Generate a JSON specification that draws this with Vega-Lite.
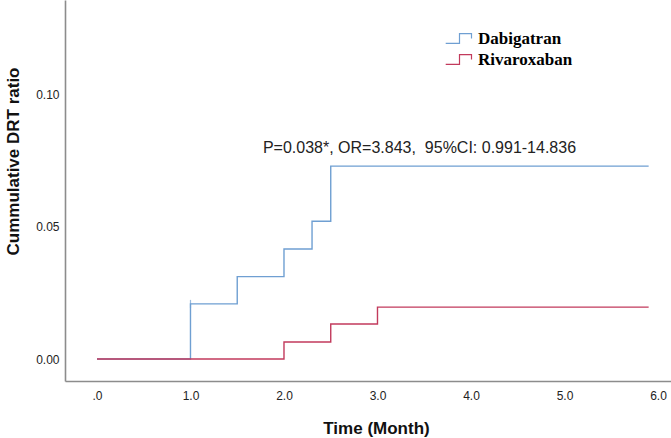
{
  "$schema": "https://vega.github.io/schema/vega-lite/v6.json",
  "autosize": "none",
  "width": 606,
  "height": 381,
  "padding": {"left": 65, "top": 0, "right": 0, "bottom": 57},
  "background": "white",
  "config": {
    "view": {"stroke": null},
    "axis": {
      "grid": false,
      "ticks": false,
      "domainColor": "#8c8c8c",
      "domainWidth": 1.6,
      "labelFont": "Liberation Sans",
      "labelFontSize": 12,
      "labelColor": "#222222",
      "titleFont": "Liberation Sans",
      "titleFontSize": 17,
      "titleFontWeight": "bold",
      "titleColor": "#111111"
    }
  },
  "datasets": {
    "curves": [
      {"group": "Dabigatran", "time": 0, "ratio": 0},
      {"group": "Dabigatran", "time": 1.0, "ratio": 0.0208},
      {"group": "Dabigatran", "time": 1.5, "ratio": 0.0311},
      {"group": "Dabigatran", "time": 2.0, "ratio": 0.0415},
      {"group": "Dabigatran", "time": 2.3, "ratio": 0.052},
      {"group": "Dabigatran", "time": 2.5, "ratio": 0.0728},
      {"group": "Dabigatran", "time": 5.9, "ratio": 0.0728},
      {"group": "Rivaroxaban", "time": 0, "ratio": 0},
      {"group": "Rivaroxaban", "time": 2.0, "ratio": 0.0064},
      {"group": "Rivaroxaban", "time": 2.5, "ratio": 0.0132},
      {"group": "Rivaroxaban", "time": 3.0, "ratio": 0.0196},
      {"group": "Rivaroxaban", "time": 5.9, "ratio": 0.0196}
    ],
    "censor": [
      {"group": "Dabigatran", "time": 1.0, "ratio": 0.0208}
    ],
    "note": [
      {"label": "P=0.038*, OR=3.843,\u00a0 95%CI: 0.991-14.836"}
    ]
  },
  "layer": [
    {
      "data": {"name": "curves"},
      "mark": {"type": "line", "interpolate": "step-after", "strokeWidth": 1.4},
      "encoding": {
        "x": {
          "field": "time", "type": "quantitative",
          "scale": {"domain": [-0.342, 6.139], "nice": false, "zero": false},
          "axis": {
            "values": [0, 1, 2, 3, 4, 5, 6],
            "labelExpr": "datum.value == 0 ? '.0' : format(datum.value, '.1f')",
            "labelPadding": 9,
            "title": "Time (Month)",
            "titleX": 311,
            "titleY": 52,
            "titleBaseline": "alphabetic"
          }
        },
        "y": {
          "field": "ratio", "type": "quantitative",
          "scale": {"domain": [-0.0083, 0.1355], "nice": false, "zero": false},
          "axis": {
            "values": [0, 0.05, 0.1],
            "format": ".2f",
            "labelPadding": 6,
            "title": "Cummulative DRT ratio",
            "titleX": -52,
            "titleY": 161,
            "titleAngle": -90,
            "titleAlign": "center",
            "titleBaseline": "middle"
          }
        },
        "color": {
          "field": "group", "type": "nominal",
          "scale": {"domain": ["Dabigatran", "Rivaroxaban"], "range": ["#6f9fd2", "#c23a5c"]},
          "legend": {
            "title": null,
            "orient": "none",
            "legendX": 392,
            "legendY": 30,
            "symbolType": "M-3.3,0.8 H-1.0 V-0.8 H1.0 V0",
            "symbolSize": 144,
            "symbolStrokeWidth": 1.2,
            "labelFont": "Liberation Serif",
            "labelFontWeight": "bold",
            "labelFontSize": 17,
            "labelColor": "#000000",
            "labelOffset": 4,
            "rowPadding": 3
          }
        }
      }
    },
    {
      "data": {"name": "censor"},
      "mark": {"type": "tick", "orient": "vertical", "size": 8, "thickness": 1.2, "color": "#6f9fd2"},
      "encoding": {
        "x": {"field": "time", "type": "quantitative"},
        "y": {"field": "ratio", "type": "quantitative"}
      }
    },
    {
      "data": {"name": "note"},
      "mark": {"type": "text", "align": "left", "baseline": "middle", "font": "Liberation Sans", "fontSize": 16, "color": "#222222"},
      "encoding": {
        "x": {"datum": 1.775, "type": "quantitative"},
        "y": {"datum": 0.0796, "type": "quantitative"},
        "text": {"field": "label"}
      }
    }
  ]
}
